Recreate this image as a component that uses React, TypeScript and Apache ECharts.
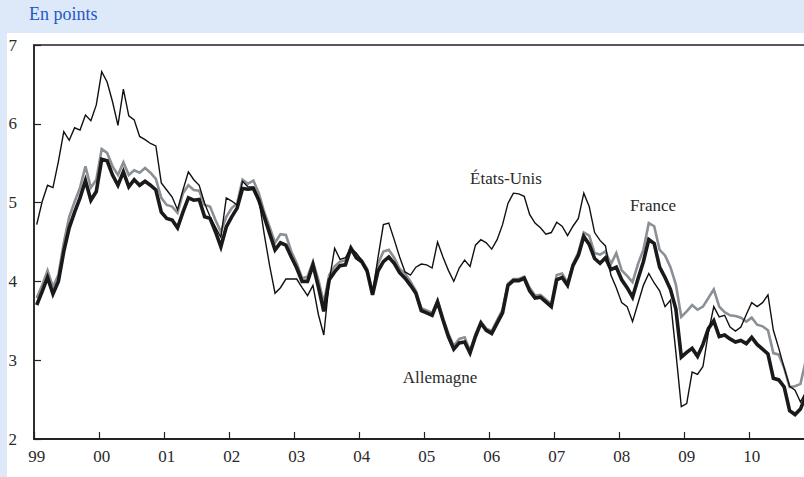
import React, { useEffect, useRef } from "react";
import * as echarts from "echarts";

// Tick labels (years) — monthly categories are built from them
const years = ["99", "00", "01", "02", "03", "04", "05", "06", "07", "08", "09", "10"];
const months = years.flatMap((y) =>
  Array.from({ length: 12 }, (_, i) => `${y}-${String(i + 1).padStart(2, "0")}`)
);

// États-Unis (thin black)
const usRates = [
  4.72, 5.01, 5.22, 5.19, 5.52, 5.90, 5.79, 5.95, 5.92, 6.11, 6.04, 6.24,
  6.66, 6.53, 6.28, 5.98, 6.44, 6.10, 6.05, 5.84, 5.80, 5.75, 5.72, 5.25,
  5.16, 5.07, 4.91, 5.16, 5.39, 5.29, 5.22, 4.99, 4.82, 4.69, 4.56, 5.06,
  5.02, 4.97, 5.27, 5.20, 5.20, 5.05, 4.60, 4.20, 3.85, 3.92, 4.03, 4.03,
  4.03, 3.92, 3.82, 3.95, 3.58, 3.32, 4.00, 4.42, 4.28, 4.30, 4.42, 4.36,
  4.27, 4.14, 3.85, 4.30, 4.72, 4.74, 4.53, 4.31, 4.12, 4.08, 4.18, 4.22,
  4.21, 4.17, 4.50, 4.31, 4.14, 4.00, 4.17, 4.27, 4.19, 4.46, 4.53, 4.49,
  4.41, 4.53, 4.72, 4.99, 5.12, 5.11, 5.08, 4.85, 4.74, 4.68, 4.60, 4.62,
  4.75, 4.70, 4.58, 4.70, 4.80, 5.12, 4.95, 4.62, 4.52, 4.45, 4.08, 3.92,
  3.73, 3.68, 3.49, 3.72, 3.95, 4.10, 3.98, 3.88, 3.68, 3.76, 3.10, 2.41,
  2.45, 2.85, 2.82, 2.92, 3.35, 3.68, 3.55, 3.57, 3.42, 3.37, 3.42, 3.58,
  3.73, 3.68, 3.73, 3.83, 3.38, 3.15, 2.90, 2.67, 2.62, 2.47, 2.60,
];

// Allemagne (thick black)
const germanyRates = [
  3.70, 3.87, 4.05, 3.84, 4.00, 4.38, 4.68, 4.88, 5.06, 5.28, 5.03, 5.14,
  5.55, 5.53, 5.35, 5.22, 5.39, 5.20, 5.29, 5.22, 5.27, 5.22, 5.16, 4.88,
  4.80, 4.78, 4.68, 4.88, 5.06, 5.03, 5.04, 4.82, 4.80, 4.63, 4.44, 4.69,
  4.82, 4.93, 5.18, 5.17, 5.18, 5.03, 4.82, 4.61, 4.40, 4.49, 4.46, 4.31,
  4.17, 4.00, 4.00, 4.21, 3.93, 3.62, 4.02, 4.12, 4.20, 4.21, 4.42, 4.30,
  4.25, 4.13, 3.83, 4.13, 4.25, 4.31, 4.23, 4.11, 4.04, 3.95, 3.85, 3.63,
  3.60, 3.57, 3.74, 3.51, 3.30, 3.14, 3.22, 3.23, 3.09, 3.30, 3.47, 3.38,
  3.34, 3.47, 3.60, 3.95, 4.01, 4.01, 4.04, 3.88, 3.79, 3.80, 3.74, 3.68,
  4.02, 4.05, 3.95, 4.20, 4.33, 4.57, 4.47, 4.29, 4.23, 4.30, 4.15, 4.18,
  4.02, 3.92, 3.80, 4.03, 4.25, 4.53, 4.48, 4.18, 4.05, 3.90, 3.65, 3.04,
  3.10, 3.15, 3.05, 3.20, 3.40, 3.50, 3.30, 3.32, 3.27, 3.23, 3.25, 3.21,
  3.29, 3.20, 3.14, 3.08, 2.77, 2.75, 2.66, 2.36, 2.31, 2.38, 2.55,
];

// France (grey)
const franceRates = [
  3.79, 3.95, 4.14, 3.93, 4.08, 4.49, 4.82, 5.01, 5.19, 5.46, 5.19, 5.29,
  5.68, 5.63, 5.46, 5.35, 5.51, 5.35, 5.41, 5.38, 5.44, 5.38, 5.30, 5.06,
  4.97, 4.95, 4.87, 5.12, 5.22, 5.16, 5.15, 4.97, 4.95, 4.78, 4.63, 4.82,
  4.93, 4.99, 5.29, 5.24, 5.28, 5.12, 4.88, 4.69, 4.49, 4.60, 4.59, 4.38,
  4.23, 4.04, 4.06, 4.25, 4.02, 3.73, 4.08, 4.19, 4.25, 4.27, 4.44, 4.33,
  4.27, 4.16, 3.86, 4.22, 4.38, 4.40, 4.30, 4.16, 4.10, 4.00, 3.88, 3.66,
  3.63, 3.60, 3.76, 3.54, 3.34, 3.18, 3.27, 3.29, 3.12, 3.33, 3.49, 3.40,
  3.37, 3.51, 3.64, 3.97, 4.03, 4.03, 4.06, 3.92, 3.82, 3.83, 3.77, 3.71,
  4.08, 4.10, 3.98, 4.22, 4.37, 4.62, 4.58, 4.36, 4.34, 4.38, 4.22, 4.36,
  4.14, 4.07, 3.99, 4.22, 4.40, 4.74, 4.70, 4.40, 4.33, 4.18, 3.96, 3.55,
  3.62, 3.70, 3.64, 3.68, 3.79, 3.90, 3.68, 3.61, 3.57, 3.56, 3.54, 3.49,
  3.54, 3.45, 3.43, 3.38, 3.09, 3.07, 2.90, 2.66, 2.67, 2.70, 3.00,
];

const FONT = "Liberation Serif";
const BAND = "#dde9f8";
const INK = "#2a2a2a";

export default function App() {
  const ref = useRef<HTMLDivElement>(null);

  useEffect(() => {
    if (!ref.current) return;
    const chart = echarts.init(ref.current, null, { renderer: "svg" });
    const isJan = (idx: number) => idx % 12 === 0;
    chart.setOption({
      animation: false,
      backgroundColor: "#ffffff",
      grid: {
        left: 34,
        top: 45,
        right: -10,
        bottom: 38,
        show: true,
        borderColor: "#222",
        borderWidth: 1.5,
        containLabel: false,
        outerBoundsMode: "none",
      },
      xAxis: {
        type: "category",
        data: months,
        boundaryGap: true,
        axisLine: { show: true, lineStyle: { color: "#222", width: 1.8 } },
        axisTick: {
          show: true,
          inside: true,
          length: 7,
          interval: (idx: number) => isJan(idx),
          lineStyle: { color: "#222", width: 1.2 },
        },
        axisLabel: {
          interval: (idx: number) => isJan(idx),
          formatter: (v: string) => v.slice(0, 2),
          fontFamily: FONT,
          fontSize: 17,
          color: INK,
          margin: 9,
        },
        splitLine: { show: false },
      },
      yAxis: {
        type: "value",
        min: 2,
        max: 7,
        interval: 1,
        axisLine: { show: true, lineStyle: { color: "#222", width: 1.5 } },
        axisTick: { show: true, inside: true, length: 7, lineStyle: { color: "#222", width: 1.2 } },
        axisLabel: {
          fontFamily: FONT,
          fontSize: 17,
          color: INK,
          margin: 17,
          align: "right",
        },
        splitLine: { show: false },
      },
      graphic: [
        { type: "rect", shape: { x: 0, y: 0, width: 804, height: 33 }, style: { fill: BAND }, silent: true },
        { type: "rect", shape: { x: 0, y: 33, width: 7, height: 444 }, style: { fill: BAND }, silent: true },
        {
          type: "text",
          x: 29,
          y: 14,
          style: { text: "En points", fontFamily: FONT, fontSize: 18, fill: "#2458c8", align: "left", verticalAlign: "middle" },
        },
        {
          type: "text",
          x: 506,
          y: 178,
          style: { text: "États-Unis", fontFamily: FONT, fontSize: 17, fill: INK, align: "center", verticalAlign: "middle" },
        },
        {
          type: "text",
          x: 653,
          y: 205,
          style: { text: "France", fontFamily: FONT, fontSize: 17, fill: INK, align: "center", verticalAlign: "middle" },
        },
        {
          type: "text",
          x: 440,
          y: 377,
          style: { text: "Allemagne", fontFamily: FONT, fontSize: 17, fill: INK, align: "center", verticalAlign: "middle" },
        },
      ],
      series: [
        {
          name: "France",
          type: "line",
          data: franceRates,
          symbol: "none",
          lineStyle: { color: "#8a9096", width: 2.6, join: "miter" },
          z: 2,
        },
        {
          name: "Allemagne",
          type: "line",
          data: germanyRates,
          symbol: "none",
          lineStyle: { color: "#1a1a1a", width: 3.6, join: "miter" },
          z: 3,
        },
        {
          name: "États-Unis",
          type: "line",
          data: usRates,
          symbol: "none",
          lineStyle: { color: "#111", width: 1.4, join: "miter" },
          z: 4,
        },
      ],
    });
    return () => chart.dispose();
  }, []);

  return (
    <div
      ref={ref}
      style={{ position: "absolute", left: 0, top: 0, width: 804, height: 477 }}
    />
  );
}
